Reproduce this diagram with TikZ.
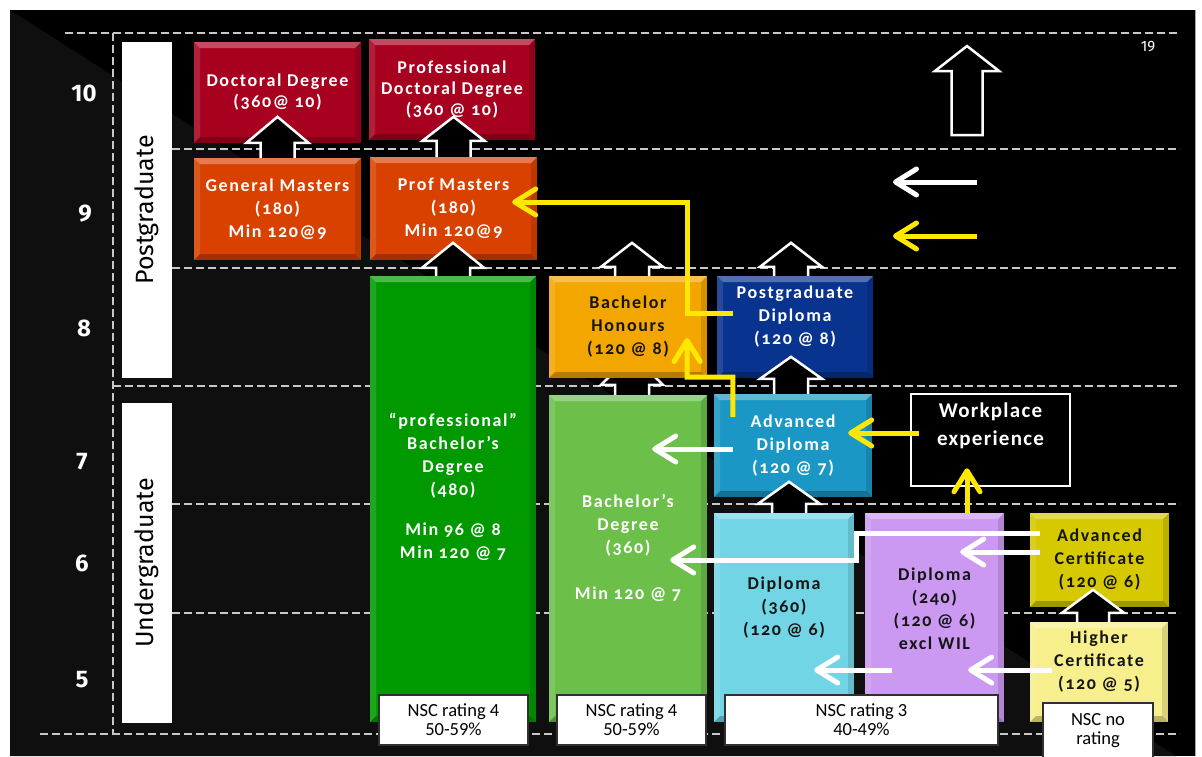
\documentclass[tikz,border=0pt]{standalone}
\usepackage{fontspec}
\setmainfont{Fira Sans}
\newfontfamily\liningfont{Fira Sans}
\newfontfamily\boxfam{Carlito}[LetterSpace=9,Numbers=OldStyle]
\newfontfamily\wpfam{Carlito}[LetterSpace=6]
\newfontfamily\nscfam{Carlito}
\usetikzlibrary{arrows.meta,calc}
\definecolor{crim}{HTML}{A8001F}
\definecolor{mast}{HTML}{D94100}
\definecolor{dgreen}{HTML}{009A00}
\definecolor{lgreen}{HTML}{6CC04A}
\definecolor{honor}{HTML}{F4A600}
\definecolor{navy}{HTML}{08338F}
\definecolor{tealc}{HTML}{1B97C6}
\definecolor{lcyan}{HTML}{72D5E6}
\definecolor{lilac}{HTML}{CC99F2}
\definecolor{acyel}{HTML}{D6C900}
\definecolor{hcyel}{HTML}{F7EF8C}
\definecolor{yarrow}{HTML}{FFE800}
\definecolor{txtdark}{HTML}{151515}
\definecolor{bgdiag}{HTML}{0F0F0F}
\definecolor{dashgray}{HTML}{C8C8C8}
\definecolor{nscborder}{HTML}{303030}
\newcommand\boxfont{\boxfam\fontsize{18}{23}\selectfont\bfseries}
\newcommand\docfont{\boxfam\fontsize{18}{21}\selectfont\bfseries}
\newcommand\nscfont{\nscfam\fontsize{18.5}{19}\selectfont}
\newcommand\lvlfont{\liningfont\fontsize{24}{24}\selectfont\bfseries}
\newcommand\sidefont{\fontsize{25}{25}\selectfont}
\newcommand\blockup[5]{%
 \fill[black] ($(#1)+(-#2,0)$) -- ($(#1)+(-#2,-#4)$) -- ($(#1)+(-#3,-#4)$) -- ($(#1)+(0,-#5)$) -- ($(#1)+(#3,-#4)$) -- ($(#1)+(#2,-#4)$) -- ($(#1)+(#2,0)$) -- cycle;
 \draw[blkline] ($(#1)+(-#2,0)$) -- ($(#1)+(-#2,-#4)$) -- ($(#1)+(-#3,-#4)$) -- ($(#1)+(0,-#5)$) -- ($(#1)+(#3,-#4)$) -- ($(#1)+(#2,-#4)$) -- ($(#1)+(#2,0)$);}
\tikzset{
 bevel/.style={path picture={
   \fill[white,opacity=.30] (path picture bounding box.north west) -- (path picture bounding box.north east) -- ([xshift=-6pt,yshift=-6pt]path picture bounding box.north east) -- ([xshift=6pt,yshift=-6pt]path picture bounding box.north west) -- cycle;
   \fill[white,opacity=.12] (path picture bounding box.north west) -- ([xshift=6pt,yshift=-6pt]path picture bounding box.north west) -- ([xshift=6pt,yshift=6pt]path picture bounding box.south west) -- (path picture bounding box.south west) -- cycle;
   \fill[black,opacity=.25] (path picture bounding box.south west) -- ([xshift=6pt,yshift=6pt]path picture bounding box.south west) -- ([xshift=-6pt,yshift=6pt]path picture bounding box.south east) -- (path picture bounding box.south east) -- cycle;
   \fill[black,opacity=.12] (path picture bounding box.south east) -- ([xshift=-6pt,yshift=6pt]path picture bounding box.south east) -- ([xshift=-6pt,yshift=-6pt]path picture bounding box.north east) -- (path picture bounding box.north east) -- cycle;
 }},
 qbox/.style={inner sep=0pt, align=center, font=\boxfont, text=white, bevel},
 txt/.style={inner sep=0pt, align=center, font=\boxfont},
 nsc/.style={fill=white, draw=nscborder, line width=1.5pt, inner sep=0pt, align=center, font=\nscfont, text=black},
 sidebox/.style={fill=white, inner sep=0pt, font=\sidefont, text=black, rotate=90},
 lvl/.style={text=white, font=\lvlfont, inner sep=0pt},
 dline/.style={draw=dashgray, line width=2.5pt, dash pattern=on 8pt off 4pt},
 blkline/.style={draw=white, line width=2.5pt, line join=miter},
 warr/.style={draw=white, line width=5pt, -{Straight Barb[length=21pt,width=26pt,round]}},
 yarr/.style={draw=yarrow, line width=5pt, -{Straight Barb[length=21pt,width=26pt,round]}},
}
\begin{document}
\begin{tikzpicture}[x=1pt,y=-1pt]
\useasboundingbox (0,0) rectangle (1202,756);
\fill[white] (0,0) rectangle (1202,756);
\fill[black] (10,10) rectangle (1195,756);
\fill[bgdiag] (10,10) -- (1176,756) -- (10,756) -- cycle;
\draw[gray!70, line width=1pt] (1195,10) -- (1195,756);
% grid
\draw[dline] (65,33) -- (1180,33);
\draw[dline] (172,149) -- (1180,149);
\draw[dline] (172,268) -- (1180,268);
\draw[dline] (113,386) -- (1180,386);
\draw[dline] (172,504) -- (1180,504);
\draw[dline] (172,613) -- (1180,613);
\draw[dline] (40,734) -- (1180,734);
\draw[dline] (113,33) -- (113,734);
% level numbers
\node[lvl] (l10) at (84,93) {10};
\node[lvl] (l9) at (85,214) {9};
\node[lvl] (l8) at (84,328) {8};
\node[lvl] (l7) at (82,462) {7};
\node[lvl] (l6) at (82,563) {6};
\node[lvl] (l5) at (82,680) {5};
\node[sidebox, minimum width=336pt, minimum height=50pt] (pg) at (147,210) {Postgraduate};
\node[sidebox, minimum width=320pt, minimum height=50pt] (ug) at (147,563) {Undergraduate};
\node[text=white, font=\liningfont\fontsize{15}{15}\selectfont, inner sep=0pt] (pnum) at (1148,47) {19};
% boxes
\node[qbox, fill=crim, minimum width=167pt, minimum height=101pt, font=\docfont] (doc) at (277.5,92.5) {Doctoral Degree\\(360@ 10)};
\node[qbox, fill=crim, minimum width=166pt, minimum height=101pt, font=\docfont] (pdoc) at (452,89.5) {Professional\\Doctoral Degree\\(360 @ 10)};
\node[qbox, fill=mast, minimum width=167pt, minimum height=102pt] (gm) at (277.5,209) {General Masters\\(180)\\Min 120@9};
\node[qbox, fill=mast, minimum width=167pt, minimum height=103pt] (pm) at (453.5,208.5) {Prof Masters\\(180)\\Min 120@9};
\node[qbox, fill=dgreen, minimum width=166pt, minimum height=446pt] (pbd) at (453,499) {};
\node[txt, text=white] (pbdt) at (453,487) {“professional”\\Bachelor’s\\Degree\\(480)\\[17pt]Min 96 @ 8\\Min 120 @ 7};
\node[qbox, fill=lgreen, minimum width=158pt, minimum height=327pt] (bd) at (628,558.5) {};
\node[txt, text=white] (bdt) at (628,548) {Bachelor’s\\Degree\\(360)\\[23pt]Min 120 @ 7};
\coordinate (b6) at ($(bd.north)+(4,0)$);
\blockup{b6}{17}{31}{10}{40}
\node[qbox, fill=honor, text=txtdark, minimum width=158pt, minimum height=102pt] (hon) at (628,327) {Bachelor\\Honours\\(120 @ 8)};
\node[qbox, fill=navy, minimum width=156pt, minimum height=102pt] (pgd) at (795,327) {};
\node[txt, text=white] (pgdt) at (795,317) {Postgraduate\\Diploma\\(120 @ 8)};
\node[qbox, fill=tealc, minimum width=158pt, minimum height=103pt] (ad) at (793,445.5) {Advanced\\Diploma\\(120 @ 7)};
\node[draw=white, line width=2.5pt, fill=black, minimum width=159pt, minimum height=92pt, inner sep=0pt] (wp) at (990.5,440) {};
\node[txt, text=white, font=\wpfam\fontsize{21}{28}\selectfont\bfseries] (wpt) at (990.5,426) {Workplace\\experience};
\node[qbox, fill=lcyan, minimum width=140pt, minimum height=209pt] (dip3) at (784,617.5) {};
\node[txt, text=txtdark] (dip3t) at (784,608) {Diploma\\(360)\\(120 @ 6)};
\node[qbox, fill=lilac, minimum width=139pt, minimum height=209pt] (dip2) at (934.5,617.5) {};
\node[txt, text=txtdark] (dip2t) at (934.5,609) {Diploma\\(240)\\(120 @ 6)\\excl WIL};
\node[qbox, fill=acyel, text=txtdark, minimum width=139pt, minimum height=94pt] (ac) at (1099.5,560) {Advanced\\Certificate\\(120 @ 6)};
\node[qbox, fill=hcyel, minimum width=138pt, minimum height=100pt] (hc) at (1099,672) {};
\node[txt, text=txtdark] (hct) at (1099,662) {Higher\\Certificate\\(120 @ 5)};
% block arrows
\blockup{gm.north}{17}{31}{15}{41}
\blockup{pm.north}{17}{31}{16}{40}
\blockup{pbd.north}{17}{31}{8}{33}
\coordinate (b4) at ($(hon.north)+(4,0)$);
\blockup{b4}{17}{31}{9}{33}
\coordinate (b5) at ($(pgd.north)+(-4,0)$);
\blockup{b5}{17}{31}{9}{33}
\coordinate (b7) at ($(ad.north)+(-2,0)$);
\blockup{b7}{17}{31}{15}{37}
\coordinate (b8) at ($(dip3.north)+(5,0)$);
\blockup{b8}{17}{31}{9}{31}
\coordinate (b9) at ($(hc.north)+(-6,0)$);
\blockup{b9}{16}{31}{9}{32}
% legend
\coordinate (lg) at (967,135);
\fill[black] ($(lg)+(-15.5,0)$) -- ($(lg)+(-15.5,-64)$) -- ($(lg)+(-32,-64)$) -- ($(lg)+(0,-89)$) -- ($(lg)+(32,-64)$) -- ($(lg)+(15.5,-64)$) -- ($(lg)+(15.5,0)$) -- cycle;
\draw[blkline] ($(lg)+(-15.5,0)$) -- ($(lg)+(-15.5,-64)$) -- ($(lg)+(-32,-64)$) -- ($(lg)+(0,-89)$) -- ($(lg)+(32,-64)$) -- ($(lg)+(15.5,-64)$) -- ($(lg)+(15.5,0)$) -- cycle;
\coordinate (lw1) at (977,182);
\coordinate (lw2) at (893,182);
\draw[warr] (lw1) -- (lw2);
\coordinate (ly1) at (977,236);
\coordinate (ly2) at (893,236);
\draw[yarr] (ly1) -- (ly2);
% yellow connectors
\draw[yarr] ($(ad.north west)+(19,23)$) |- ($(hon.south east)+(-20,-1)$) -- ($(hon.center)+(59,11)$);
\draw[yarr] ($(pgd.west)+(16,-14)$) -- ++(-45,0) |- ($(pm.east)+(-25,-6.5)$);
\draw[yarr] ($(wp.west)+(9,-7)$) -- ($(ad.east)+(-24,-12.5)$);
\draw[yarr] ($(dip2.north)+(32.5,0)$) -- ($(wp.south)+(-23.5,-19)$);
% white connectors
\draw[warr] ($(ad.west)+(19,3.5)$) -- ($(bd.east)+(-55,-109.5)$);
\draw[warr] ($(ac.west)+(10,-27)$) -- ++(-183,0) |- ($(bd.east)+(-37,1.5)$);
\draw[warr] ($(ac.west)+(10,-8)$) -- ($(dip2.east)+(-44,-65.5)$);
\draw[warr] ($(hc.west)+(22,-2)$) -- ($(dip2.east)+(-36,52.5)$);
\draw[warr] ($(dip2.west)+(27,52.5)$) -- ($(dip3.east)+(-40,52.5)$);
% NSC boxes
\node[nsc, minimum width=149pt, minimum height=50pt] (n1) at (453.5,720) {NSC rating 4\\50-59\%};
\node[nsc, minimum width=149pt, minimum height=50pt] (n2) at (631.5,720) {NSC rating 4\\50-59\%};
\node[nsc, minimum width=273pt, minimum height=50pt] (n3) at (861.5,720) {NSC rating 3\\40-49\%};
\node[nsc, minimum width=110pt, minimum height=56pt] (n4) at (1098,731) {NSC no\\rating};
\end{tikzpicture}
\end{document}
